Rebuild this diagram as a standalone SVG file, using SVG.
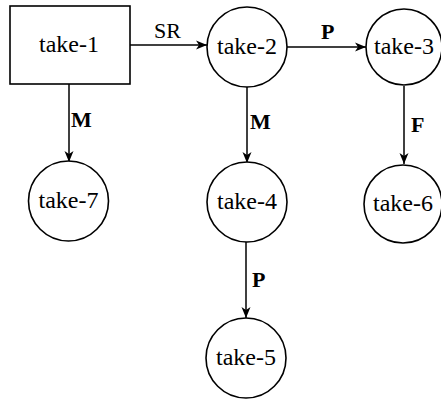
<svg xmlns="http://www.w3.org/2000/svg" width="441" height="399" viewBox="0 0 441 399">
<style>
.n{fill:#fff;stroke:#000;stroke-width:1.6}
.t{font-size:24px;text-anchor:middle;fill:#000}
.c{stroke:#000;stroke-width:1.5;fill:none}
.l{font-size:22px;font-weight:bold;fill:#000}
.s{font-size:22px;fill:#000}
</style>
<defs>
<marker id="a" markerWidth="12" markerHeight="10" refX="11" refY="5" orient="auto" markerUnits="userSpaceOnUse">
<path d="M0,0.5 L11,5 L0,9.5 L3,5 Z" fill="#000"/>
</marker>
</defs>
<rect width="441" height="399" fill="#fff"/>
<g font-family="'Liberation Serif', 'Times New Roman', serif">
<g id="connectors">
<line class="c" x1="130" y1="45" x2="207" y2="45" marker-end="url(#a)"/>
<line class="c" x1="287" y1="47" x2="366" y2="47" marker-end="url(#a)"/>
<line class="c" x1="69" y1="84" x2="69" y2="162" marker-end="url(#a)"/>
<line class="c" x1="247" y1="87" x2="247" y2="163" marker-end="url(#a)"/>
<line class="c" x1="404" y1="86" x2="404" y2="164" marker-end="url(#a)"/>
<line class="c" x1="246" y1="242" x2="246" y2="318" marker-end="url(#a)"/>
<text class="s" x="154" y="38">SR</text>
<text class="l" x="321" y="39">P</text>
<text class="l" x="71" y="127">M</text>
<text class="l" x="250" y="129">M</text>
<text class="l" x="411" y="132">F</text>
<text class="l" x="252" y="287">P</text>
</g>
<g id="take-1"><rect class="n" x="10" y="6" width="120" height="78"/><text class="t" x="69" y="52">take-1</text></g>
<g id="take-2"><circle class="n" cx="247" cy="47" r="40"/><text class="t" x="247" y="54">take-2</text></g>
<g id="take-3"><circle class="n" cx="404" cy="47" r="38"/><text class="t" x="404" y="54">take-3</text></g>
<g id="take-7"><circle class="n" cx="68.5" cy="201" r="40"/><text class="t" x="68.5" y="208">take-7</text></g>
<g id="take-4"><circle class="n" cx="247" cy="202" r="40"/><text class="t" x="247" y="209">take-4</text></g>
<g id="take-6"><circle class="n" cx="403" cy="204" r="39"/><text class="t" x="403" y="211">take-6</text></g>
<g id="take-5"><circle class="n" cx="246" cy="358" r="40"/><text class="t" x="246" y="365">take-5</text></g>
</g>
</svg>
